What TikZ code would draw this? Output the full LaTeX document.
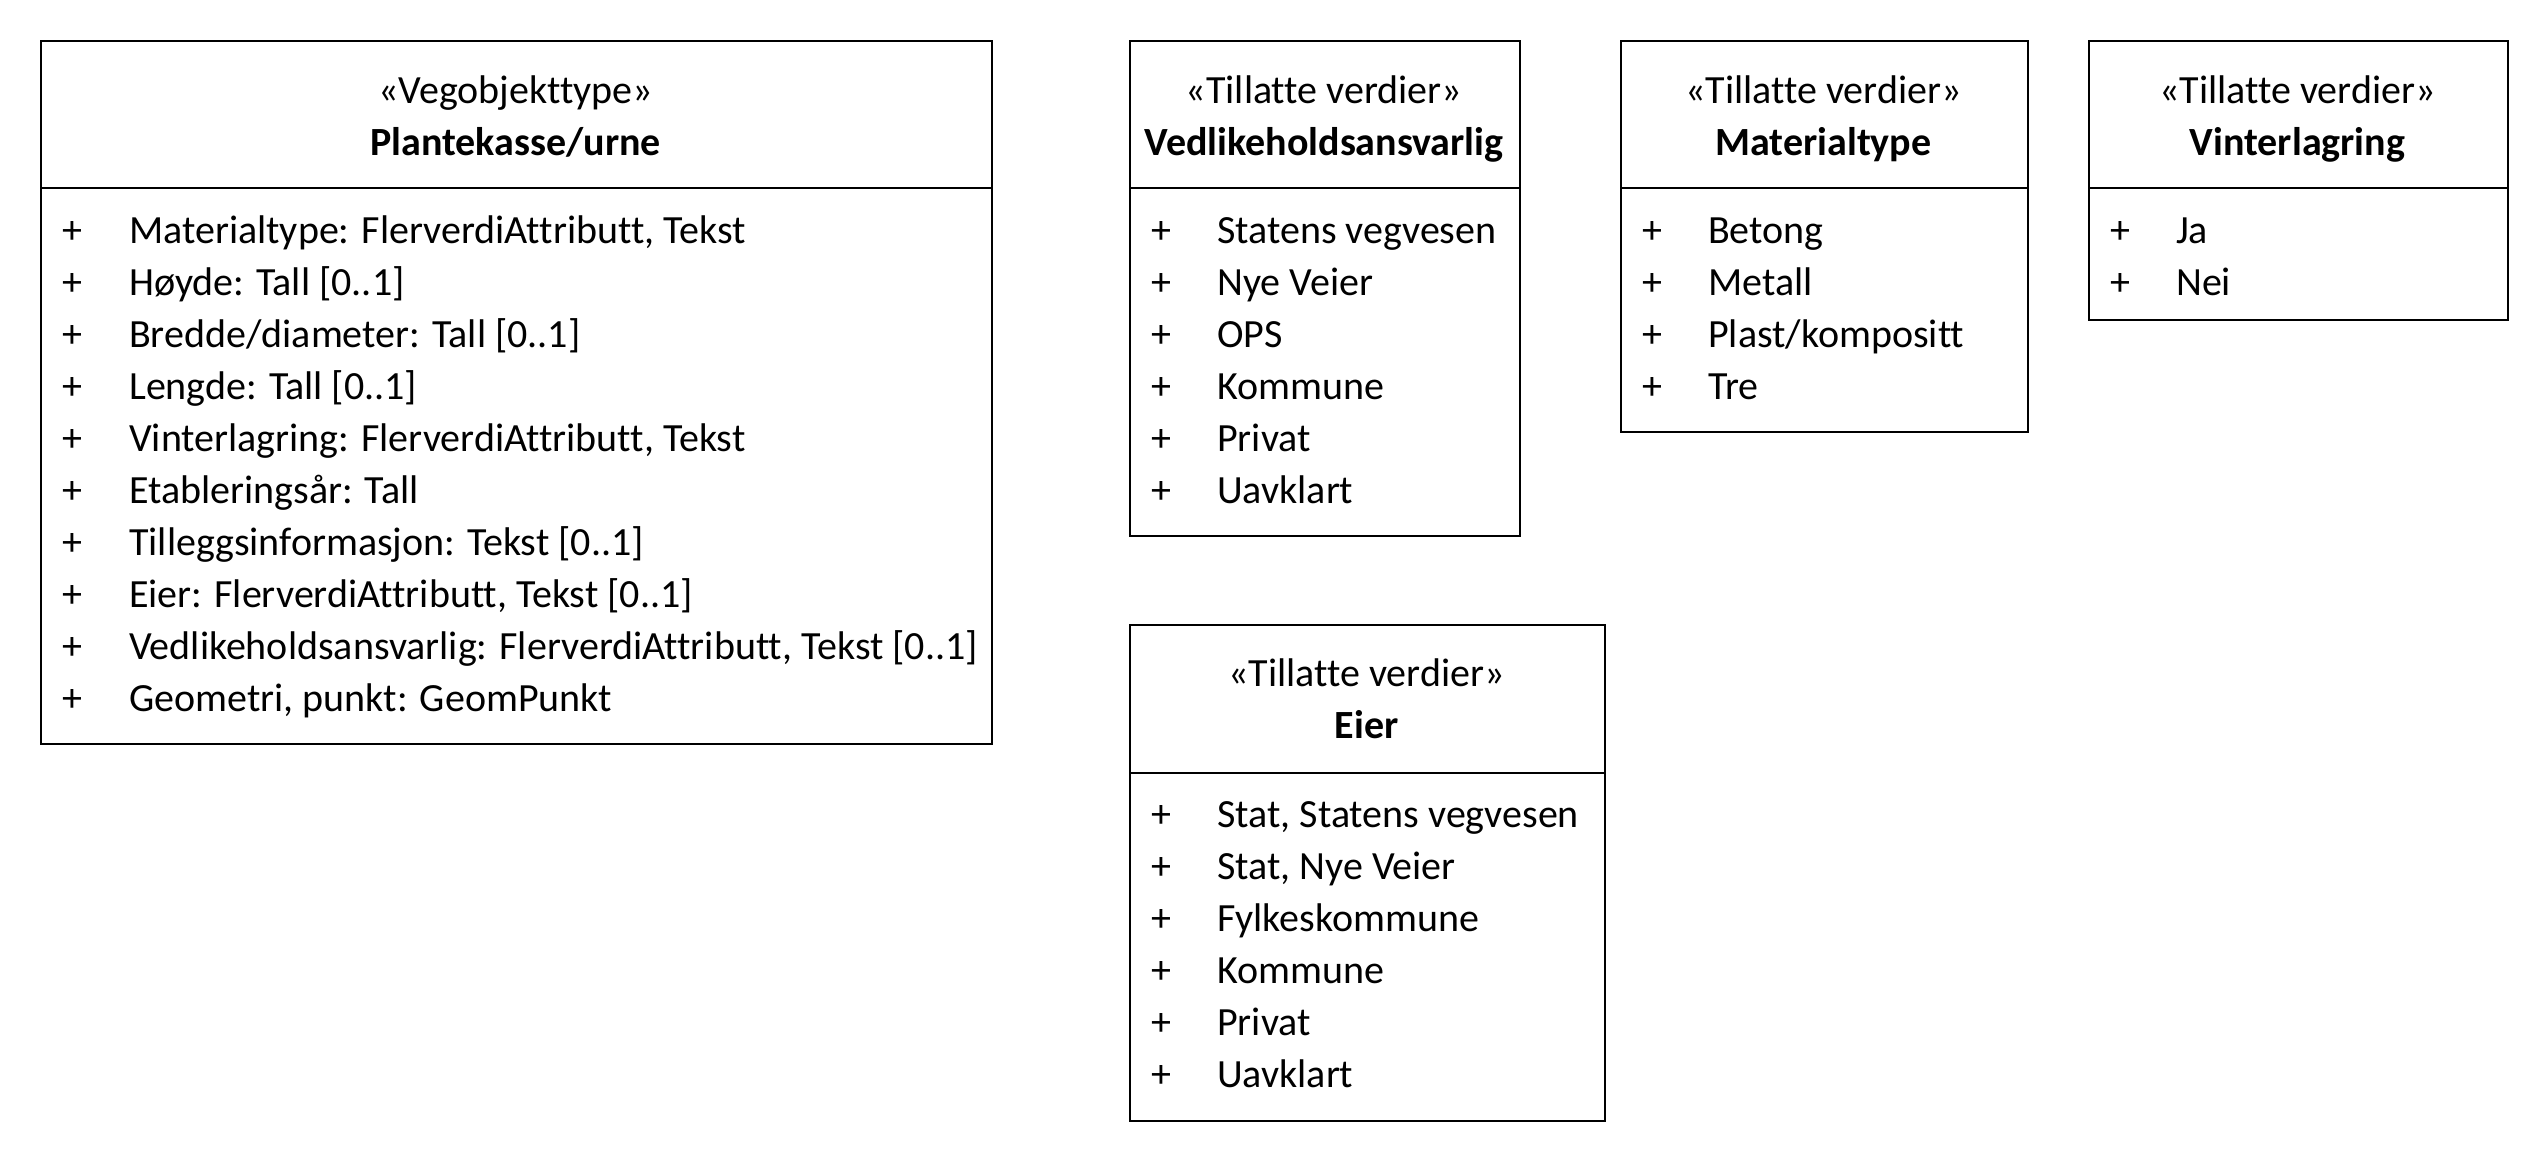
\documentclass[tikz,border=0pt]{standalone}
\usepackage{fontspec}
\setmainfont[Ligatures=NoCommon]{Carlito}
\begin{document}
\begin{tikzpicture}[x=1pt,y=-1pt,
  umlbox/.style={draw, line width=2pt, anchor=north west, inner sep=0pt},
  divline/.style={line width=2pt},
  txt/.style={inner sep=0pt, anchor=base west, font=\fontsize{40}{52}\selectfont},
  ttl/.style={inner sep=0pt, anchor=base, font=\fontsize{40}{52}\selectfont},
  ttlb/.style={inner sep=0pt, anchor=base, font=\fontsize{40}{52}\selectfont\bfseries}]
\useasboundingbox (0,0) rectangle (2548,1160);

% Box 1: Plantekasse/urne
\node[umlbox, minimum width=951pt, minimum height=703pt] (b1) at (40,40) {};
\draw[divline] (40,188) -- (991,188);
\node[ttl] (b1s) at (515.5,103) {«Vegobjekttype»};
\node[ttlb] (b1t) at (515.5,155) {Plantekasse/urne};
\foreach \t [count=\i from 0] in {{Materialtype: FlerverdiAttributt, Tekst},
  {Høyde: Tall [0..1]}, {Bredde/diameter: Tall [0..1]}, {Lengde: Tall [0..1]},
  {Vinterlagring: FlerverdiAttributt, Tekst}, {Etableringsår: Tall},
  {Tilleggsinformasjon: Tekst [0..1]}, {Eier: FlerverdiAttributt, Tekst [0..1]},
  {Vedlikeholdsansvarlig: FlerverdiAttributt, Tekst [0..1]},
  {Geometri, punkt: GeomPunkt}}{
  \node[txt] (b1p\i) at (62,{243+52*\i}) {+};
  \node[txt] (b1r\i) at (129,{243+52*\i}) {\t};
}

% Box 2: Vedlikeholdsansvarlig
\node[umlbox, minimum width=390pt, minimum height=495pt] (b2) at (1129,40) {};
\draw[divline] (1129,188) -- (1519,188);
\node[ttl] (b2s) at (1324,103) {«Tillatte verdier»};
\node[ttlb] (b2t) at (1324,155) {Vedlikeholdsansvarlig};
\foreach \t [count=\i from 0] in {{Statens vegvesen}, {Nye Veier}, {OPS}, {Kommune}, {Privat}, {Uavklart}}{
  \node[txt] (b2p\i) at (1151,{243+52*\i}) {+};
  \node[txt] (b2r\i) at (1217,{243+52*\i}) {\t};
}

% Box 3: Materialtype
\node[umlbox, minimum width=407pt, minimum height=391pt] (b3) at (1620,40) {};
\draw[divline] (1620,188) -- (2027,188);
\node[ttl] (b3s) at (1823.5,103) {«Tillatte verdier»};
\node[ttlb] (b3t) at (1823.5,155) {Materialtype};
\foreach \t [count=\i from 0] in {{Betong}, {Metall}, {Plast/kompositt}, {Tre}}{
  \node[txt] (b3p\i) at (1642,{243+52*\i}) {+};
  \node[txt] (b3r\i) at (1708,{243+52*\i}) {\t};
}

% Box 4: Vinterlagring
\node[umlbox, minimum width=419pt, minimum height=279pt] (b4) at (2088,40) {};
\draw[divline] (2088,188) -- (2507,188);
\node[ttl] (b4s) at (2297.5,103) {«Tillatte verdier»};
\node[ttlb] (b4t) at (2297.5,155) {Vinterlagring};
\foreach \t [count=\i from 0] in {{Ja}, {Nei}}{
  \node[txt] (b4p\i) at (2110,{243+52*\i}) {+};
  \node[txt] (b4r\i) at (2176,{243+52*\i}) {\t};
}

% Box 5: Eier
\node[umlbox, minimum width=475pt, minimum height=496pt] (b5) at (1129,624) {};
\draw[divline] (1129,773) -- (1604,773);
\node[ttl] (b5s) at (1366.5,686) {«Tillatte verdier»};
\node[ttlb] (b5t) at (1366.5,738) {Eier};
\foreach \t [count=\i from 0] in {{Stat, Statens vegvesen}, {Stat, Nye Veier}, {Fylkeskommune}, {Kommune}, {Privat}, {Uavklart}}{
  \node[txt] (b5p\i) at (1151,{827+52*\i}) {+};
  \node[txt] (b5r\i) at (1217,{827+52*\i}) {\t};
}
\end{tikzpicture}
\end{document}
